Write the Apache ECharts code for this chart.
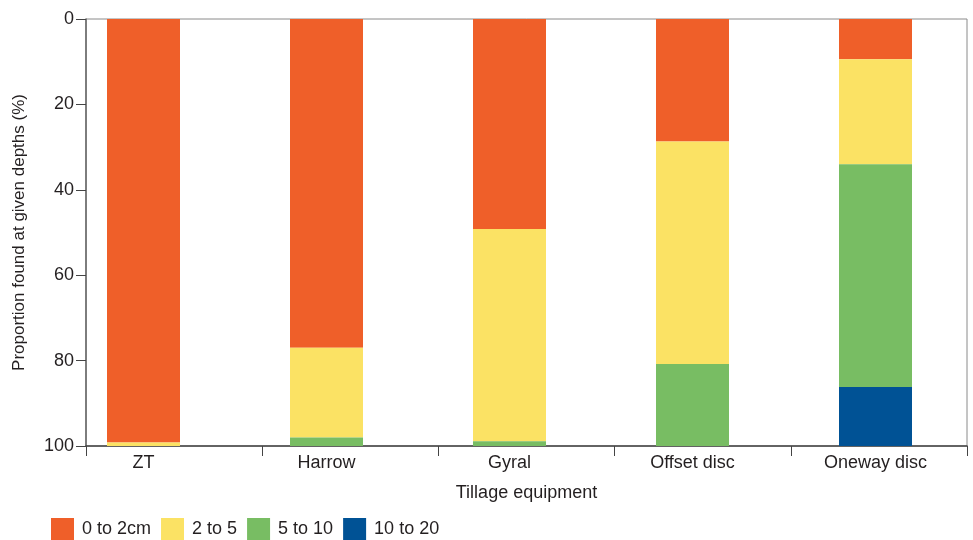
<!DOCTYPE html>
<html><head><meta charset="utf-8">
<script src="https://cdn.jsdelivr.net/npm/echarts@6/dist/echarts.min.js"></script>
<style>html,body{margin:0;padding:0;background:#fff}#c{width:973px;height:540px}</style>
</head><body><div id="c"></div>
<script>
const categories = ['ZT', 'Harrow', 'Gyral', 'Offset disc', 'Oneway disc'];
const seriesNames = ['0 to 2cm', '2 to 5', '5 to 10', '10 to 20'];
const d0to2 = [99.2, 77.0, 49.2, 28.7, 9.4];
const d2to5 = [0.8, 21.0, 49.7, 52.1, 24.6];
const d5to10 = [0, 2.0, 1.1, 19.2, 52.2];
const d10to20 = [0, 0, 0, 0, 13.8];
const yTicks = [0, 20, 40, 60, 80, 100];

const colors = ['#EF5F29', '#FBE264', '#78BD63', '#005295'];
const font = "'Liberation Sans Narrow', 'Liberation Sans', Arial, sans-serif";
const txt = '#231f20';
const chart = echarts.init(document.getElementById('c'), null, {renderer: 'canvas'});
const dataSets = [d0to2, d2to5, d5to10, d10to20];
const yMin = yTicks[0], yMax = yTicks[yTicks.length - 1];
chart.setOption({
  animation: false,
  grid: [
    {left: 52, right: 6, top: 19, bottom: 94, show: false, containLabel: false, outerBoundsMode: 'none'},
    {left: 86, right: 6, top: 19, bottom: 94, show: true, borderColor: '#8a8a8a', borderWidth: 1,
     backgroundColor: 'transparent', containLabel: false, outerBoundsMode: 'none'}
  ],
  legend: {
    left: 46, top: 513, itemWidth: 23, itemHeight: 23, itemGap: 10,
    icon: 'rect',
    textStyle: {fontFamily: font, fontSize: 18, color: txt, padding: [0, 0, 0, 3]},
    data: seriesNames
  },
  xAxis: [
    {
      gridIndex: 0, type: 'category', data: categories, position: 'bottom',
      axisLine: {show: false, onZero: false}, axisTick: {show: false},
      axisLabel: {fontFamily: font, fontSize: 18, color: txt, margin: 8}
    },
    {
      gridIndex: 1, type: 'category', data: categories, position: 'bottom',
      name: 'Tillage equipment', nameLocation: 'middle', nameGap: 38,
      nameTextStyle: {fontFamily: font, fontSize: 18, color: txt},
      axisLine: {onZero: false, lineStyle: {color: '#444', width: 1.5}},
      axisTick: {show: true, length: 10, lineStyle: {color: '#444'}},
      axisLabel: {show: false}
    }
  ],
  yAxis: [
    {
      gridIndex: 0, type: 'value', inverse: true, min: yMin, max: yMax, interval: 20, show: false
    },
    {
      gridIndex: 1, type: 'value', inverse: true, min: yMin, max: yMax, interval: 20,
      name: 'Proportion found at given depths (%)', nameLocation: 'middle', nameGap: 58,
      nameTextStyle: {fontFamily: font, fontSize: 17, color: txt},
      axisLine: {show: true, onZero: false, lineStyle: {color: '#666', width: 1.5}},
      axisTick: {show: true, length: 10, lineStyle: {color: '#444'}},
      axisLabel: {fontFamily: font, fontSize: 18, color: txt, margin: 12},
      splitLine: {show: false}
    }
  ],
  series: seriesNames.map((n, i) => ({
    name: n, type: 'bar', stack: 'all', data: dataSets[i], barWidth: 73,
    xAxisIndex: 0, yAxisIndex: 0,
    itemStyle: {color: colors[i]}
  }))
});
</script></body></html>
